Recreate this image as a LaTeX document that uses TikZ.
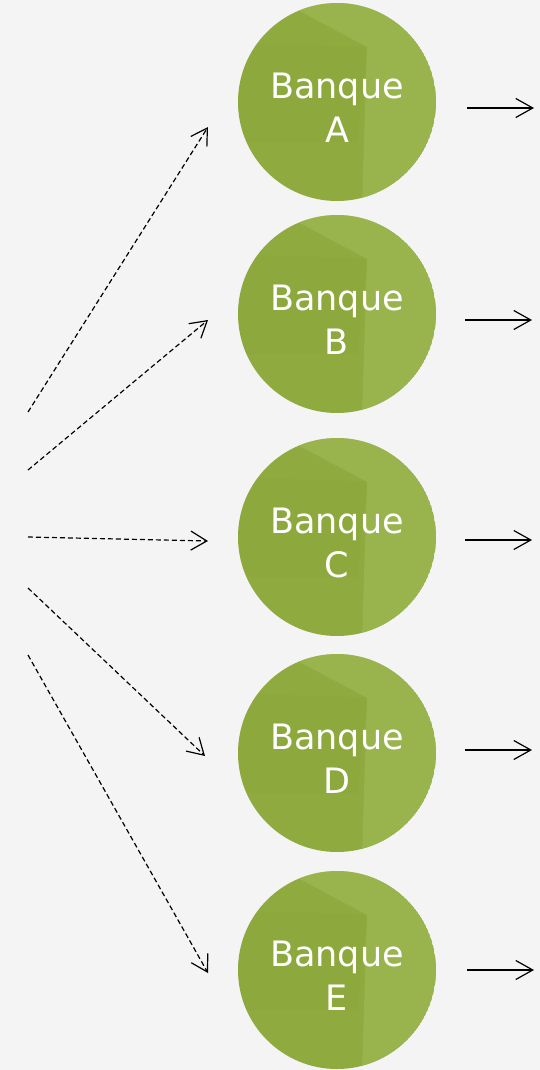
\documentclass[tikz,border=0pt]{standalone}
\usepackage{fontspec}
\setmainfont{DejaVu Sans}
\usetikzlibrary{arrows.meta}
\definecolor{bg}{HTML}{F4F4F4}
\definecolor{bankgreen}{HTML}{8FAA3E}
\definecolor{banklight}{HTML}{A6BE60}
\tikzset{
  bank/.style={circle, minimum size=198pt, inner sep=0pt, text=white,
    font=\fontsize{35}{44}\selectfont, align=center},
  feed/.style={dash pattern=on 5pt off 3pt, line width=1.2pt,
    -{Straight Barb[length=16pt,width=19pt,line width=1.2pt]}},
  outarrow/.style={line width=1.2pt,
    -{Straight Barb[length=17pt,width=19pt,line width=1.2pt]}},
}
\newcommand{\bankdisc}[3]{%
  \begin{scope}
    \clip (#1,#2) circle (99);
    \fill[bankgreen] (#1,#2) circle (99);
    \fill[banklight, opacity=0.45] (#1-45,#2-95) -- (#1+30,#2-55) -- (#1+25,#2+100) -- (#1+110,#2+100) -- (#1+110,#2-110) -- cycle;
    \fill[bankgreen!85!black, opacity=0.06] (#1-99,#2-60) -- (#1+30,#2-55) -- (#1+20,#2+40) -- (#1-99,#2+40) -- cycle;
  \end{scope}
  \node[bank] (#3) at (#1,#2+6) {Banque\\#3};
}
\begin{document}
\begin{tikzpicture}[x=1pt,y=-1pt]
\fill[bg] (0,0) rectangle (540,1070);
\useasboundingbox (0,0) rectangle (540,1070);
\bankdisc{337}{102}{A}
\bankdisc{337}{314}{B}
\bankdisc{337}{537}{C}
\bankdisc{337}{753}{D}
\bankdisc{337}{970}{E}
\coordinate (sA) at (28,412);
\coordinate (tA) at (208,127);
\coordinate (sB) at (28,470);
\coordinate (tB) at (208,320);
\coordinate (sC) at (28,537);
\coordinate (tC) at (208,541);
\coordinate (sD) at (28,588);
\coordinate (tD) at (205,756);
\coordinate (sE) at (28,655);
\coordinate (tE) at (208,973);
\draw[feed] (sA) -- (tA);
\draw[feed] (sB) -- (tB);
\draw[feed] (sC) -- (tC);
\draw[feed] (sD) -- (tD);
\draw[feed] (sE) -- (tE);
\coordinate (oA1) at (467,108); \coordinate (oA2) at (534,108);
\coordinate (oB1) at (465,320); \coordinate (oB2) at (532,320);
\coordinate (oC1) at (465,540); \coordinate (oC2) at (532,540);
\coordinate (oD1) at (465,750); \coordinate (oD2) at (532,750);
\coordinate (oE1) at (467,970); \coordinate (oE2) at (534,970);
\draw[outarrow] (oA1) -- (oA2);
\draw[outarrow] (oB1) -- (oB2);
\draw[outarrow] (oC1) -- (oC2);
\draw[outarrow] (oD1) -- (oD2);
\draw[outarrow] (oE1) -- (oE2);
\end{tikzpicture}
\end{document}
